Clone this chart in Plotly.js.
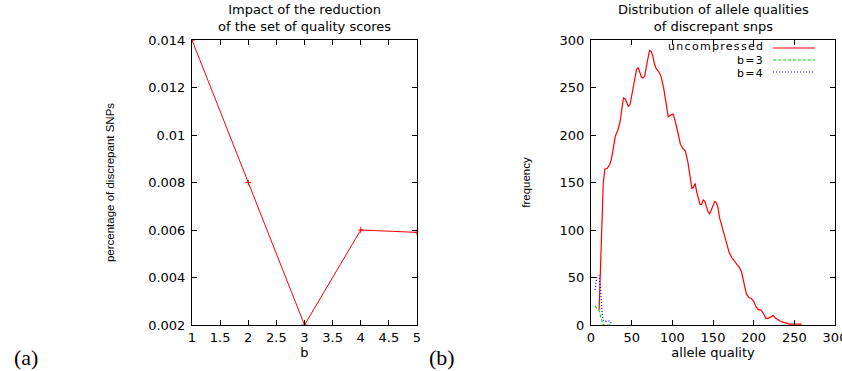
<!DOCTYPE html>
<html>
<head>
<meta charset="utf-8">
<script src="https://cdn.plot.ly/plotly-3.0.1.min.js"></script>
<style>html,body{margin:0;padding:0;background:#fff;}#chart{width:842px;height:371px;}</style>
</head>
<body>
<div id="chart"></div>
<script>
// ---- data ----
const leftB = [1, 2, 3, 4, 5];
const leftPct = [0.014, 0.008, 0.002, 0.006, 0.0059];

const qualX = [10,11,13,15,17,20,23,25,28,30,33,36,38,40,42,44,46,48,50,53,56,58,60,62,64,66,68,70,72,74,76,78,
  80,83,86,89,92,95,98,101,104,107,110,113,116,119,122,124,126,128,130,132,134,136,138,140,142,144,146,148,150,
  152,154,156,158,161,164,167,170,173,176,179,182,185,188,191,194,197,200,203,206,209,212,215,218,221,224,227,
  230,233,236,240,244,248,252,256,259];
const uncompressed = [16,40,100,148,164,165,169,174,189,199,205,215,228,239,238,234,230,232,240,255,269,271,266,261,260,262,272,282,289,288,283,275,
  270,267,262,251,235,219,221,222,213,200,190,186,183,172,155,144,145,149,140,132,127,127,132,130,125,119,117,122,127,
  130,129,124,113,103,95,85,76,71,68,65,61,56,45,33,29,28,25,19,16,16,12,7,7,9,10,7,
  5,4,3,2,1,1,1,1,1];

const b3X = [5, 10, 15, 20, 25];
const b3Y = [20, 15, 0, 0, 0];

const b4X = [5, 7, 10, 12, 14, 16, 20, 24, 25];
const b4Y = [37, 50, 52, 35, 9, 4, 4, 4, 0];

const legendNames = ['uncompressed', 'b=3', 'b=4'];
const seriesColors = ['#ff0000', '#00dd00', '#0000ff'];
const seriesDash = ['solid', '3px,2px', '1px,2px'];

// ---- layout helpers (pixel -> paper) ----
const M = {l: 192, r: 7, t: 40, b: 46};
const W = 842, H = 371;
const PW = W - M.l - M.r, PH = H - M.t - M.b;
const px = x => (x - M.l) / PW;
const py = y => (H - M.b - y) / PH;

const hFont = 'DejaVu Sans, Verdana, sans-serif';
const vFont = 'Liberation Sans, Arial, sans-serif';
const tickFont = {family: hFont, size: 13, color: '#000'};

const traces = [
  {x: leftB, y: leftPct, xaxis: 'x', yaxis: 'y', mode: 'lines+markers', showlegend: false,
   line: {color: seriesColors[0], width: 1},
   marker: {symbol: 'cross-thin', size: 4, color: seriesColors[0], line: {color: seriesColors[0], width: 1}}},
  {x: qualX, y: uncompressed, xaxis: 'x2', yaxis: 'y2', mode: 'lines', name: legendNames[0], showlegend: false,
   line: {color: seriesColors[0], width: 1.2, dash: seriesDash[0]}},
  {x: b3X, y: b3Y, xaxis: 'x2', yaxis: 'y2', mode: 'lines', name: legendNames[1], showlegend: false,
   line: {color: seriesColors[1], width: 1.2, dash: seriesDash[1]}},
  {x: b4X, y: b4Y, xaxis: 'x2', yaxis: 'y2', mode: 'lines', name: legendNames[2], showlegend: false,
   line: {color: seriesColors[2], width: 1.2, dash: seriesDash[2]}}
];

const axisCommon = {
  showline: true, linecolor: '#000', linewidth: 1, mirror: 'ticks',
  ticks: 'inside', ticklen: 5, tickcolor: '#000', tickwidth: 1,
  showgrid: false, zeroline: false, tickfont: tickFont, ticklabeloverflow: 'allow'
};

const annotations = [
  {text: 'Impact of the reduction<br>of the set of quality scores', x: px(304.5), y: py(18), xref: 'paper', yref: 'paper',
   showarrow: false, xanchor: 'center', yanchor: 'middle', font: {family: hFont, size: 13, color: '#000'}},
  {text: 'Distribution of allele qualities<br>of discrepant snps', x: px(713), y: py(18), xref: 'paper', yref: 'paper',
   showarrow: false, xanchor: 'center', yanchor: 'middle', font: {family: hFont, size: 13, color: '#000'}},
  {text: '(a)', x: px(12), y: py(357), xref: 'paper', yref: 'paper', showarrow: false, xanchor: 'left', yanchor: 'middle',
   font: {family: 'Liberation Serif, Times New Roman, serif', size: 22, color: '#000'}},
  {text: '(b)', x: px(427), y: py(357), xref: 'paper', yref: 'paper', showarrow: false, xanchor: 'left', yanchor: 'middle',
   font: {family: 'Liberation Serif, Times New Roman, serif', size: 22, color: '#000'}}
];
const shapes = [];
const legendRows = [48, 60, 72];
const legendTextRows = [47, 60, 73];
legendNames.forEach((n, i) => {
  annotations.push({text: '<span style="letter-spacing:1.3px">' + n + '</span>', x: px(765), y: py(legendTextRows[i]),
    xref: 'paper', yref: 'paper', showarrow: false,
    xanchor: 'right', yanchor: 'middle', borderpad: 0, font: {family: hFont, size: 11, color: '#000'}});
  shapes.push({type: 'line', xref: 'paper', yref: 'paper', layer: 'above', x0: px(773), x1: px(815), y0: py(legendRows[i]), y1: py(legendRows[i]),
    line: {color: seriesColors[i], width: 1.2, dash: seriesDash[i]}});
});

const layout = {
  width: W, height: H,
  margin: M,
  paper_bgcolor: '#fff', plot_bgcolor: '#fff',
  showlegend: false,
  xaxis: Object.assign({}, axisCommon, {domain: [0, 225 / PW], range: [1, 5], dtick: 0.5, tick0: 1, anchor: 'y',
    title: {text: 'b', font: {family: hFont, size: 13, color: '#000'}, standoff: 4}}),
  yaxis: Object.assign({}, axisCommon, {domain: [0, 1], range: [0.002, 0.014], dtick: 0.002, tick0: 0.002, anchor: 'x',
    ticklabelstandoff: 3,
    title: {text: 'percentage of discrepant SNPs', font: {family: vFont, size: 11.5, color: '#000'}, standoff: 31}}),
  xaxis2: Object.assign({}, axisCommon, {domain: [(591 - M.l) / PW, 1], range: [0, 300], dtick: 50, anchor: 'y2',
    title: {text: 'allele quality', font: {family: hFont, size: 13, color: '#000'}, standoff: 4}}),
  yaxis2: Object.assign({}, axisCommon, {domain: [0, 1], range: [0, 300], dtick: 50, anchor: 'x2',
    ticklabelstandoff: 3,
    title: {text: 'frequency', font: {family: vFont, size: 11.5, color: '#000'}, standoff: 26}}),
  annotations: annotations,
  shapes: shapes
};

Plotly.newPlot('chart', traces, layout, {displayModeBar: false, staticPlot: true});
</script>
</body>
</html>
